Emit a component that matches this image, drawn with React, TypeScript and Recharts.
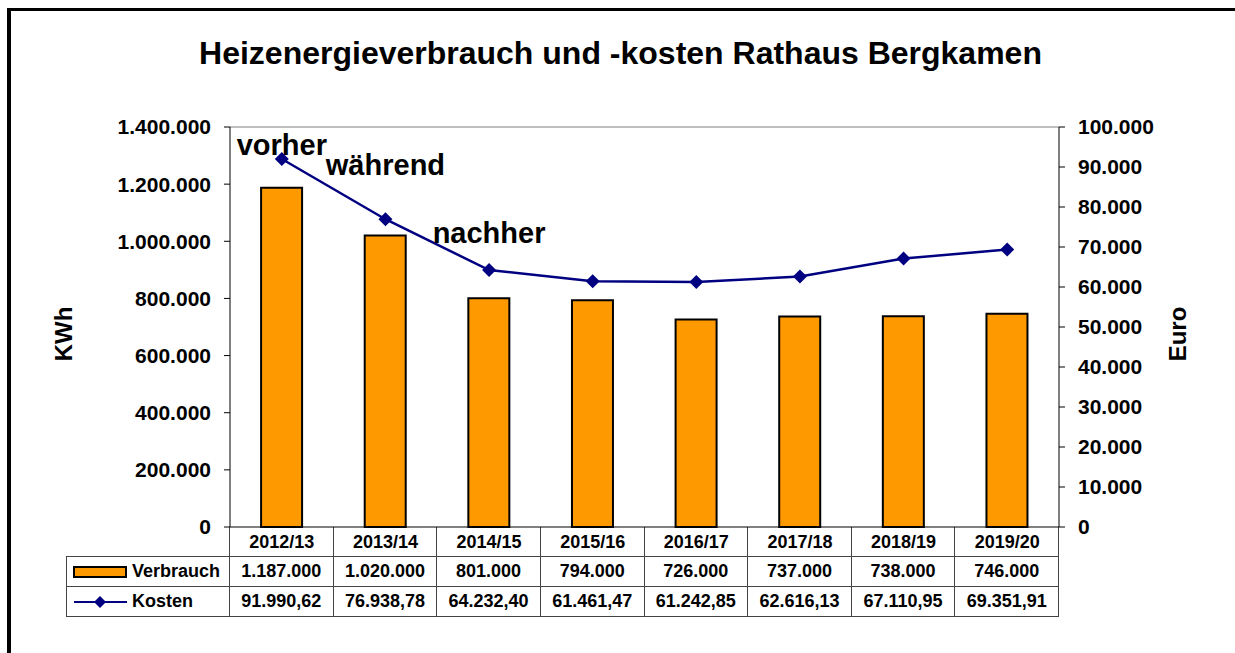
import React from 'react';
import { ComposedChart, Bar, Line, XAxis, YAxis, ReferenceDot, ReferenceLine } from 'recharts';

const categories = ['2012/13', '2013/14', '2014/15', '2015/16', '2016/17', '2017/18', '2018/19', '2019/20'];
const verbrauch = [1187000, 1020000, 801000, 794000, 726000, 737000, 738000, 746000];
const kosten = [91990.62, 76938.78, 64232.4, 61461.47, 61242.85, 62616.13, 67110.95, 69351.91];
const leftTicks = [0, 200000, 400000, 600000, 800000, 1000000, 1200000, 1400000];
const rightTicks = [0, 10000, 20000, 30000, 40000, 50000, 60000, 70000, 80000, 90000, 100000];
const annotationTexts = ['vorher', 'während', 'nachher'];
const annotationCategories = ['2012/13', '2013/14', '2014/15'];
const annotationValues = [1302000, 1232000, 994000];

const FONT = '"Liberation Sans", Arial, sans-serif';
const ORANGE = '#FF9900';
const NAVY = '#000080';
const GRID = '#444444';

const data = categories.map((c, i) => ({ cat: c, verbrauch: verbrauch[i], kosten: kosten[i] }));

const fmtInt = (v: number) => String(Math.round(v)).replace(/\B(?=(\d{3})+(?!\d))/g, '.');
const fmtDec = (v: number) => {
  const [i, d] = v.toFixed(2).split('.');
  return fmtInt(Number(i)) + ',' + d;
};

const Diamond = (props: any) => {
  const { cx, cy } = props;
  if (cx == null || cy == null) return null;
  const s = 7;
  return <polygon points={`${cx},${cy - s} ${cx + s},${cy} ${cx},${cy + s} ${cx - s},${cy}`} fill={NAVY} />;
};

const AxisTitle = (props: any) => {
  const { viewBox, value, dx } = props;
  if (!viewBox) return null;
  const cx = viewBox.x + dx;
  const cy = viewBox.y + viewBox.height / 2 + 7;
  return (
    <text x={cx} y={cy} transform={`rotate(-90 ${cx} ${cy})`} textAnchor="middle" dominantBaseline="central"
      fontFamily={FONT} fontWeight="bold" fontSize={24} fill="#000">{value}</text>
  );
};

const CatTick = (props: any) => {
  const { x, y, payload } = props;
  return (
    <text x={x} y={y + 7} textAnchor="middle" dominantBaseline="central" fontFamily={FONT} fontWeight="bold" fontSize={18} fill="#000">
      {payload.value}
    </text>
  );
};

const cellBase: React.CSSProperties = {
  boxSizing: 'border-box',
  height: 30,
  display: 'flex',
  alignItems: 'center',
  justifyContent: 'center',
  fontFamily: FONT,
  fontWeight: 'bold',
  fontSize: 18,
  color: '#000',
};

export default function App() {
  const line = `1px solid ${GRID}`;
  return (
    <div style={{ position: 'absolute', left: 0, top: 0, width: 1235, height: 653, overflow: 'hidden', background: '#fff' }}>
      <div style={{ position: 'absolute', left: 7, top: 8, width: 1400, height: 800, borderLeft: '4px solid #000', borderTop: '3px solid #000' }} />
      <div style={{ position: 'absolute', left: 0, top: 37, width: 1241, textAlign: 'center', fontFamily: FONT, fontWeight: 'bold', fontSize: 32, lineHeight: '32px', color: '#000' }}>
        Heizenergieverbrauch und -kosten Rathaus Bergkamen
      </div>
      {/* data table */}
      <div style={{ position: 'absolute', left: 66, top: 527, width: 993, display: 'grid', gridTemplateColumns: '164px repeat(8, 1fr)' }}>
        <div style={{ ...cellBase, borderRight: line, borderBottom: line }} />
        {categories.map((c) => (
          <div key={'h' + c} style={{ ...cellBase, borderRight: line, borderBottom: line }} />
        ))}
        <div style={{ ...cellBase, justifyContent: 'flex-start', borderLeft: line, borderRight: line, borderBottom: line, paddingLeft: 6 }}>
          <svg width={56} height={14} style={{ marginRight: 3 }}>
            <rect x={1} y={2} width={52} height={10} fill={ORANGE} stroke="#000" strokeWidth={2} />
          </svg>
          Verbrauch
        </div>
        {verbrauch.map((v, i) => (
          <div key={'v' + i} style={{ ...cellBase, borderRight: line, borderBottom: line }}>{fmtInt(v)}</div>
        ))}
        <div style={{ ...cellBase, justifyContent: 'flex-start', borderLeft: line, borderRight: line, borderBottom: line, paddingLeft: 6 }}>
          <svg width={56} height={16} style={{ marginRight: 3 }}>
            <line x1={1} y1={8} x2={54} y2={8} stroke={NAVY} strokeWidth={2} />
            <polygon points="27,2 33,8 27,14 21,8" fill={NAVY} />
          </svg>
          Kosten
        </div>
        {kosten.map((v, i) => (
          <div key={'k' + i} style={{ ...cellBase, borderRight: line, borderBottom: line }}>{fmtDec(v)}</div>
        ))}
      </div>
      <div style={{ position: 'absolute', left: 0, top: 0 }}>
        <ComposedChart width={1235} height={653} data={data} margin={{ top: 127, right: 0, bottom: 96, left: 0 }} barCategoryGap="30%">
          <XAxis dataKey="cat" height={30} tickLine={false} tickSize={6} tickMargin={2} axisLine={{ stroke: '#000', strokeWidth: 1 }} tick={<CatTick />} interval={0} />
          <YAxis yAxisId="left" orientation="left" width={230} domain={[0, 1400000]} ticks={leftTicks} tickFormatter={fmtInt}
            tickSize={6} tickMargin={13} axisLine={{ stroke: '#000' }} tickLine={{ stroke: '#000' }}
            tick={{ fill: '#000', fontFamily: FONT, fontWeight: 'bold', fontSize: 21 }} interval={0}
            label={<AxisTitle value="KWh" dx={63} />} />
          <YAxis yAxisId="right" orientation="right" width={176} domain={[0, 100000]} ticks={rightTicks} tickFormatter={fmtInt}
            tickSize={6} tickMargin={13} axisLine={{ stroke: '#000' }} tickLine={{ stroke: '#000' }}
            tick={{ fill: '#000', fontFamily: FONT, fontWeight: 'bold', fontSize: 21, textAnchor: 'start' }} interval={0}
            label={<AxisTitle value="Euro" dx={118} />} />
          <ReferenceLine yAxisId="left" y={1400000} stroke="#808080" strokeWidth={1} />
          {annotationTexts.map((t, i) => (
            <ReferenceDot key={t} yAxisId="left" x={annotationCategories[i]} y={annotationValues[i]} r={0}
              shape={(p: any) => (
                <text x={p.cx} y={p.cy} textAnchor="middle" fontFamily={FONT} fontWeight="bold" fontSize={29} fill="#000">{t}</text>
              )} />
          ))}
          <Bar yAxisId="left" dataKey="verbrauch" fill={ORANGE} stroke="#000" strokeWidth={2} isAnimationActive={false} />
          <Line yAxisId="right" dataKey="kosten" stroke={NAVY} strokeWidth={2.5} dot={<Diamond />} activeDot={false} isAnimationActive={false} />
        </ComposedChart>
      </div>
    </div>
  );
}
